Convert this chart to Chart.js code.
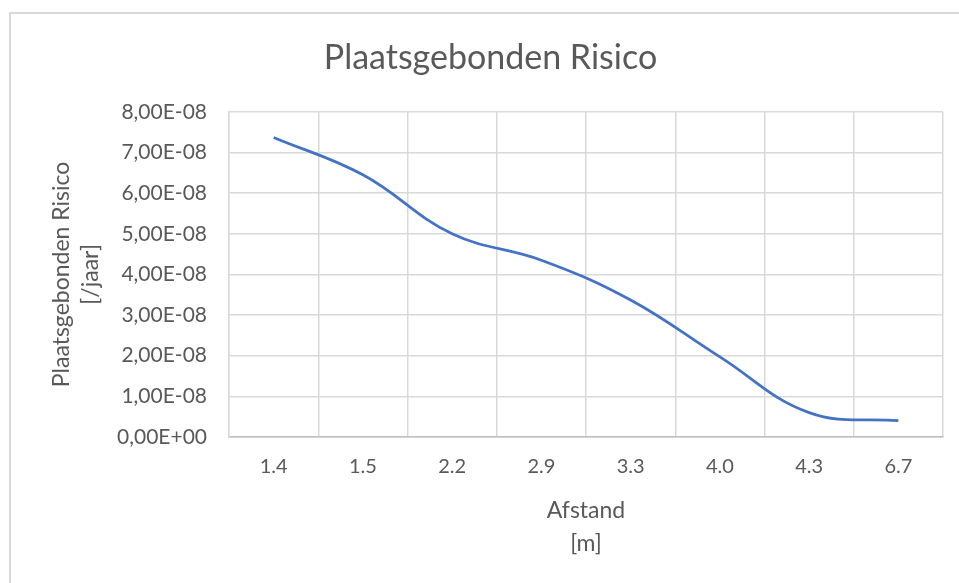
<!DOCTYPE html>
<html>
<head>
<meta charset="utf-8">
<script src="https://cdn.jsdelivr.net/npm/chart.js@4.4.0/dist/chart.umd.min.js"></script>
<style>
  html, body { margin: 0; padding: 0; background: #fff; }
  #wrap { position: relative; width: 959px; height: 583px; overflow: hidden; }
  #frame {
    position: absolute; left: 9px; top: 12px; width: 1000px; height: 700px;
    border-left: 2px solid #d9d9d9; border-top: 2px solid #d9d9d9;
  }
  canvas { position: absolute; left: 0; top: 0; }
</style>
</head>
<body>
<div id="wrap">
  <div id="frame"></div>
  <canvas id="chart" width="959" height="583"></canvas>
</div>
<script>
// afstand [m]
const distances = ["1.4", "1.5", "2.2", "2.9", "3.3", "4.0", "4.3", "6.7"];
// plaatsgebonden risico [/jaar]
const risk = [7.37e-8, 6.45e-8, 5.0e-8, 4.35e-8, 3.37e-8, 1.97e-8, 0.6e-8, 0.4e-8];

const yMin = 0;
const yMax = 8e-8;
const yStep = 1e-8;

const textColor = "#595959";
const gridColor = "#d9d9d9";
const fontFamily = "Lato, 'Open Sans', sans-serif";

// Excel style: 7,00E-08
function formatExcel(value) {
  if (Math.abs(value) < 1e-20) return "0,00E+00";
  const parts = value.toExponential(2).split("e");
  const mant = parts[0].replace(".", ",");
  const exp = parseInt(parts[1], 10);
  const sign = exp < 0 ? "-" : "+";
  return mant + "E" + sign + String(Math.abs(exp)).padStart(2, "0");
}

new Chart(document.getElementById("chart"), {
  type: "line",
  data: {
    labels: distances,
    datasets: [
      {
        label: "Plaatsgebonden Risico",
        data: risk,
        borderColor: "#4472C4",
        borderWidth: 2.75,
        pointRadius: 0,
        tension: 0.4,
        fill: false,
      },
    ],
  },
  options: {
    responsive: false,
    animation: false,
    layout: {
      padding: { left: 38, top: 12, right: 16, bottom: 0 },
    },
    plugins: {
      legend: { display: false },
      tooltip: { enabled: false },
      title: {
        display: true,
        text: "Plaatsgebonden Risico",
        color: textColor,
        font: { family: fontFamily, size: 34, weight: "normal" },
        padding: { top: 26, bottom: 33 },
      },
    },
    scales: {
      x: {
        offset: true,
        grid: { offset: true, color: gridColor, lineWidth: 1.5, drawTicks: false },
        border: { color: "#bfbfbf", width: 1.5 },
        ticks: {
          color: textColor,
          padding: 18,
          font: { family: fontFamily, size: 20 },
          maxRotation: 0,
        },
        title: {
          display: true,
          text: ["Afstand", "[m]"],
          color: textColor,
          font: { family: fontFamily, size: 23, lineHeight: 1.435 },
          padding: { top: 0, bottom: 23 },
        },
        afterFit: (scale) => {
          scale.height = 146;
        },
      },
      y: {
        min: yMin,
        max: yMax,
        grid: { color: gridColor, lineWidth: 1.5, drawTicks: false },
        border: { color: gridColor, width: 1.5 },
        ticks: {
          stepSize: yStep,
          color: textColor,
          padding: 22,
          font: { family: fontFamily, size: 21 },
          callback: (value) => formatExcel(value),
        },
        title: {
          display: true,
          text: ["Plaatsgebonden Risico", "[/jaar]"],
          color: textColor,
          font: { family: fontFamily, size: 23, lineHeight: 1.22 },
          padding: { top: 10, bottom: 0 },
        },
        afterFit: (scale) => {
          scale.width = 191;
        },
      },
    },
  },
});
</script>
</body>
</html>
